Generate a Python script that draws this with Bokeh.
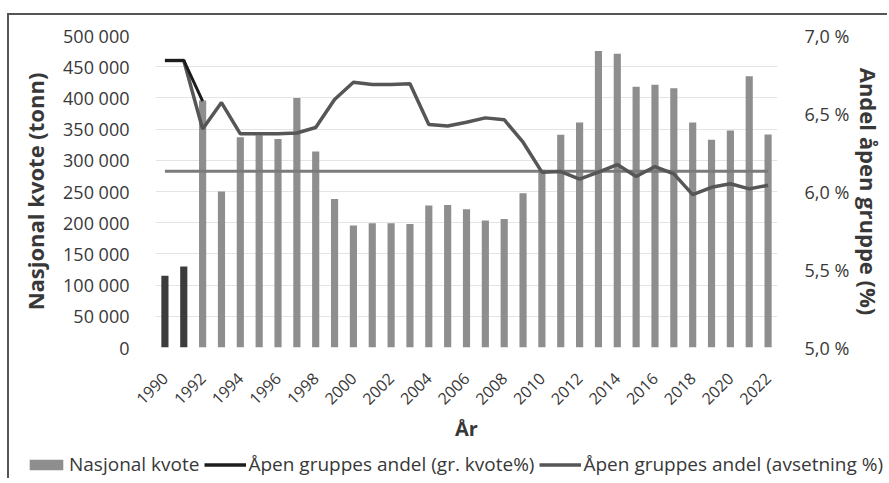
import math
import numpy as np
from bokeh.plotting import figure
from bokeh.layouts import column
from bokeh.models import Range1d, LinearAxis, FixedTicker, Legend, LegendItem
from bokeh.embed import file_html
from bokeh.resources import INLINE

# ---- data ----
years = [1990, 1991, 1992, 1993, 1994, 1995, 1996, 1997, 1998, 1999, 2000,
         2001, 2002, 2003, 2004, 2005, 2006, 2007, 2008, 2009, 2010, 2011,
         2012, 2013, 2014, 2015, 2016, 2017, 2018, 2019, 2020, 2021, 2022]
nasjonal_kvote = [115000, 130000, 396000, 250000, 337000, 340000, 334000, 400000,
                  314000, 238000, 195500, 199000, 199000, 198000, 227500, 228500,
                  221600, 203500, 206000, 247000, 285000, 341000, 360600, 475000,
                  470700, 418000, 421000, 415600, 360600, 333000, 347800, 434800,
                  341400]
avsetning_pct = [6.84, 6.84, 6.40, 6.57, 6.37, 6.37, 6.37, 6.375, 6.41, 6.59, 6.70,
                 6.686, 6.686, 6.69, 6.43, 6.42, 6.444, 6.472, 6.46, 6.316, 6.124,
                 6.128, 6.08, 6.124, 6.173, 6.096, 6.16, 6.113, 5.98, 6.027, 6.05,
                 6.017, 6.04]
gr_kvote_years = [1990, 1991, 1992]
gr_kvote_pct = [6.84, 6.84, 6.58]
flat_years = [1990, 2022]
flat_pct = [6.13, 6.13]

left_ticks = [0, 50000, 100000, 150000, 200000, 250000, 300000, 350000, 400000, 450000, 500000]
left_labels = ["0", "50 000", "100 000", "150 000", "200 000", "250 000", "300 000",
               "350 000", "400 000", "450 000", "500 000"]
right_ticks = [5.0, 5.5, 6.0, 6.5, 7.0]
right_labels = ["5,0 %", "5,5 %", "6,0 %", "6,5 %", "7,0 %"]
x_ticks = [1990, 1992, 1994, 1996, 1998, 2000, 2002, 2004, 2006, 2008, 2010,
           2012, 2014, 2016, 2018, 2020, 2022]
x_labels = ["1990", "1992", "1994", "1996", "1998", "2000", "2002", "2004", "2006",
            "2008", "2010", "2012", "2014", "2016", "2018", "2020", "2022"]
legend_labels = ["Nasjonal kvote", "Åpen gruppes andel (gr. kvote%)",
                 "Åpen gruppes andel (avsetning %)"]

FONT = "Open Sans"
TXT = "#383838"
BAR = "#8e8e8e"
BAR_DARK = "#3c3c3c"
FLAT = "#7b7b7b"
AVS = "#565656"
GRK = "#1c1c1c"
NAN = float("nan")

p = figure(frame_width=622, frame_height=312,
           min_border_left=146, min_border_right=112,
           min_border_top=20, min_border_bottom=102,
           x_range=Range1d(1989.5, 2022.5), y_range=Range1d(0, 500000),
           output_backend="svg", toolbar_location=None, tools="")
p.frame_align = False
p.outline_line_color = None
p.background_fill_color = "white"
p.border_fill_color = "white"
p.xgrid.visible = False
p.ygrid.ticker = FixedTicker(ticks=left_ticks)
p.ygrid.grid_line_color = "#e4e4e4"
p.ygrid.grid_line_width = 1

p.extra_y_ranges = {"pct": Range1d(5.0, 7.0)}

yrs = np.array(years)
kv = np.array(nasjonal_kvote)
early = yrs < 1992
p.vbar(x=yrs[early], top=kv[early], width=0.38, fill_color=BAR_DARK, line_color=None)
p.vbar(x=yrs[~early], top=kv[~early], width=0.38, fill_color=BAR, line_color=None)

p.line(flat_years, flat_pct, y_range_name="pct", line_color=FLAT, line_width=3)
p.line(years, avsetning_pct, y_range_name="pct", line_color=AVS, line_width=3.5)
p.line(gr_kvote_years, gr_kvote_pct, y_range_name="pct", line_color=GRK, line_width=3)

# axes
ax = p.yaxis[0]
ax.ticker = FixedTicker(ticks=left_ticks)
ax.major_label_overrides = dict(zip(left_ticks, left_labels))
ax.axis_label = "Nasjonal kvote (tonn)"

rax = LinearAxis(y_range_name="pct", ticker=FixedTicker(ticks=right_ticks),
                 major_label_overrides=dict(zip(right_ticks, right_labels)),
                 axis_label="Andel åpen gruppe (%)")
p.add_layout(rax, "right")

xa = p.xaxis[0]
xa.ticker = FixedTicker(ticks=x_ticks)
xa.major_label_overrides = dict(zip(x_ticks, x_labels))
xa.major_label_orientation = math.pi / 4
xa.axis_label = "År"

for a in (ax, rax, xa):
    a.axis_line_color = None
    a.major_tick_line_color = None
    a.minor_tick_line_color = None
    a.major_label_text_font = FONT
    a.major_label_text_font_size = "18px"
    a.major_label_text_color = TXT
    a.axis_label_text_font = FONT
    a.axis_label_text_font_style = "bold"
    a.axis_label_text_font_size = "22px"
    a.axis_label_text_color = TXT

xa.major_label_text_font_size = "16px"
xa.axis_label_text_font_size = "20px"
ax.major_label_standoff = 20
ax.axis_label_standoff = 10
rax.major_label_standoff = 21
rax.axis_label_standoff = 2
xa.major_label_standoff = 22
xa.axis_label_standoff = 2

# legend strip (separate small figure so the legend is not clipped)
q = figure(width=880, height=31, min_border=0, x_range=(0, 1), y_range=(0, 1),
           x_axis_type=None, y_axis_type=None,
           output_backend="svg", toolbar_location=None, tools="")
q.frame_align = False
q.outline_line_color = None
q.grid.visible = False
q.background_fill_color = "white"
q.border_fill_color = "white"
lb = q.vbar(x=[NAN], top=[NAN], width=0.5, fill_color=BAR, line_color=None)
lg = q.line(x=[NAN, NAN], y=[NAN, NAN], line_color=GRK, line_width=3.5)
la = q.line(x=[NAN, NAN], y=[NAN, NAN], line_color=AVS, line_width=3.5)

legend = Legend(items=[
    LegendItem(label=legend_labels[0], renderers=[lb]),
    LegendItem(label=legend_labels[1], renderers=[lg]),
    LegendItem(label=legend_labels[2], renderers=[la]),
], orientation="horizontal", location=(16, 3))
legend.label_text_font = FONT
legend.label_text_font_size = "19px"
legend.label_text_color = TXT
legend.glyph_width = 42
legend.glyph_height = 13
legend.label_standoff = 2
legend.spacing = 5
legend.padding = 0
legend.margin = 0
legend.border_line_color = None
legend.background_fill_alpha = 0
q.add_layout(legend, "center")

layout = column(p, q, spacing=0,
                styles={"margin-left": "9px", "margin-top": "15px",
                        "overflow": "hidden",
                        "box-shadow": "-2px -2px 0 0 #555555"})

open("out.html", "w").write(file_html(layout, INLINE))
